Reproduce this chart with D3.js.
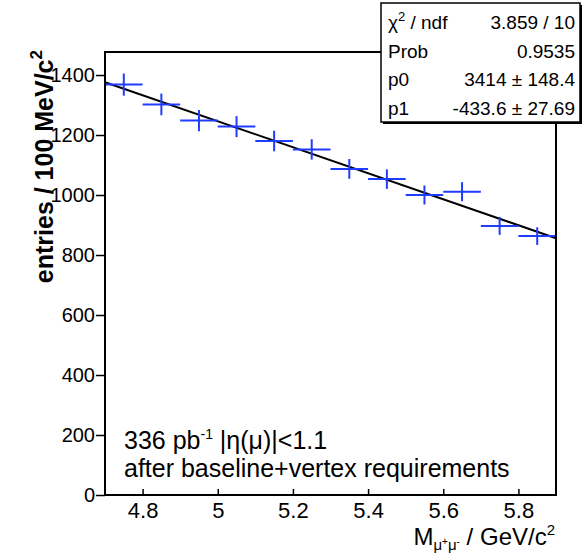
<!DOCTYPE html>
<html><head><meta charset="utf-8">
<script src="https://cdn.jsdelivr.net/npm/d3@7"></script>
<style>body{margin:0;background:#fff}svg{display:block}text{font-family:"Liberation Sans",Arial,sans-serif}</style>
</head><body><svg id="c" width="583" height="555"></svg>
<script>
const binCenters = [4.75,4.85,4.95,5.05,5.15,5.25,5.35,5.45,5.55,5.65,5.75,5.85];
const entries = [1368,1302,1248,1228,1180,1152,1087,1053,1000,1011,897,863];
const binHalfWidth = 0.05;
const fitParams = {p0:3414, p1:-433.6};
const xTicks = [4.8,5,5.2,5.4,5.6,5.8];
const yTicks = [0,200,400,600,800,1000,1200,1400];
const statRows = [["χ2 / ndf","3.859 / 10"],["Prob","0.9535"],["p0","3414 ± 148.4"],["p1","-433.6 ± 27.69"]];

const svg = d3.select("#c");
const L=105,R=556,T=52,B=495;
const x = d3.scaleLinear().domain([4.7,5.9]).range([L,R]);
const y = d3.scaleLinear().domain([0,1476.7]).range([B,T]);
const blue="#1f3cff";
const FF="Liberation Sans, Arial, sans-serif";

// y axis ticks (outside) & labels
const ya = svg.append("g").attr("transform",`translate(${L},0)`)
  .call(d3.axisLeft(y).tickValues(yTicks).tickSize(9).tickPadding(1).tickFormat(d3.format("d")));
ya.select(".domain").remove();
ya.selectAll("line").attr("stroke","#000").attr("stroke-width",1.5);
ya.selectAll("text").attr("font-size",20).attr("fill","#000").attr("font-family",FF);

// x axis ticks (inside)
const xa = svg.append("g").attr("transform",`translate(0,${B})`)
  .call(d3.axisBottom(x).tickValues(xTicks).tickSizeInner(-6).tickSizeOuter(0).tickPadding(7).tickFormat(d=>d3.format("")(d)));
xa.select(".domain").remove();
xa.selectAll("line").attr("stroke","#000").attr("stroke-width",1.5);
xa.selectAll("text").attr("font-size",22).attr("fill","#000").attr("font-family",FF);

// fit line
const fx = d=>fitParams.p0+fitParams.p1*d;
svg.append("line").attr("x1",x(4.7)).attr("y1",y(fx(4.7))).attr("x2",x(5.9)).attr("y2",y(fx(5.9)))
  .attr("stroke","#000").attr("stroke-width",2);

// data crosses
const g = svg.append("g");
binCenters.forEach((c,i)=>{
  const v=entries[i], e=Math.sqrt(v);
  g.append("line").attr("x1",x(c-binHalfWidth)).attr("x2",x(c+binHalfWidth)).attr("y1",y(v)).attr("y2",y(v)).attr("stroke",blue).attr("stroke-width",2);
  g.append("line").attr("x1",x(c)).attr("x2",x(c)).attr("y1",y(v-e)).attr("y2",y(v+e)).attr("stroke",blue).attr("stroke-width",2);
});

// frame
svg.append("rect").attr("x",L).attr("y",T).attr("width",R-L).attr("height",B-T).attr("fill","none").attr("stroke","#000").attr("stroke-width",2);

// y title
const yt = svg.append("text").attr("transform",`translate(53,50) rotate(-90)`).attr("text-anchor","end")
  .attr("font-size",25).attr("font-weight","bold").attr("fill","#000");
yt.append("tspan").text("entries / 100 MeV/c");
yt.append("tspan").attr("dy",-11).attr("font-size",17).text("2");

// x title
const xt = svg.append("text").attr("x",555).attr("y",545).attr("text-anchor","end").attr("font-size",24).attr("fill","#000");
xt.append("tspan").text("M");
xt.append("tspan").attr("dy",5).attr("font-size",15).text("μ");
xt.append("tspan").attr("dy",-5).attr("font-size",10).text("+");
xt.append("tspan").attr("dy",5).attr("font-size",15).text("μ");
xt.append("tspan").attr("dy",-5).attr("font-size",10).text("-");
xt.append("tspan").text(" / GeV/c");
xt.append("tspan").attr("dy",-10).attr("font-size",15).text("2");

// annotation
const a1 = svg.append("text").attr("x",124).attr("y",449).attr("font-size",25).attr("fill","#000");
a1.append("tspan").text("336 pb");
a1.append("tspan").attr("dy",-10).attr("font-size",14).text("-1");
a1.append("tspan").attr("dy",10).text("  |η(μ)|<1.1");
svg.append("text").attr("x",124).attr("y",477).attr("font-size",25).attr("fill","#000").text("after baseline+vertex requirements");

// stat box
const bx=381, by=3, bw=199, bh=119;
svg.append("rect").attr("x",bx+2).attr("y",by+2).attr("width",bw).attr("height",bh).attr("fill","#000");
svg.append("rect").attr("x",bx).attr("y",by).attr("width",bw).attr("height",bh).attr("fill","#fff").attr("stroke","#000").attr("stroke-width",1.5);
statRows.forEach((r,i)=>{
  const yy = by+26+i*28.7;
  const t = svg.append("text").attr("x",bx+7).attr("y",yy).attr("font-size",19).attr("fill","#000");
  if(i===0){ t.append("tspan").text("χ"); t.append("tspan").attr("dy",-8).attr("font-size",13).text("2"); t.append("tspan").attr("dy",8).text(" / ndf"); }
  else t.text(r[0]);
  svg.append("text").attr("x",bx+bw-5).attr("y",yy).attr("text-anchor","end").attr("font-size",19).attr("fill","#000").text(r[1]);
});
</script></body></html>
